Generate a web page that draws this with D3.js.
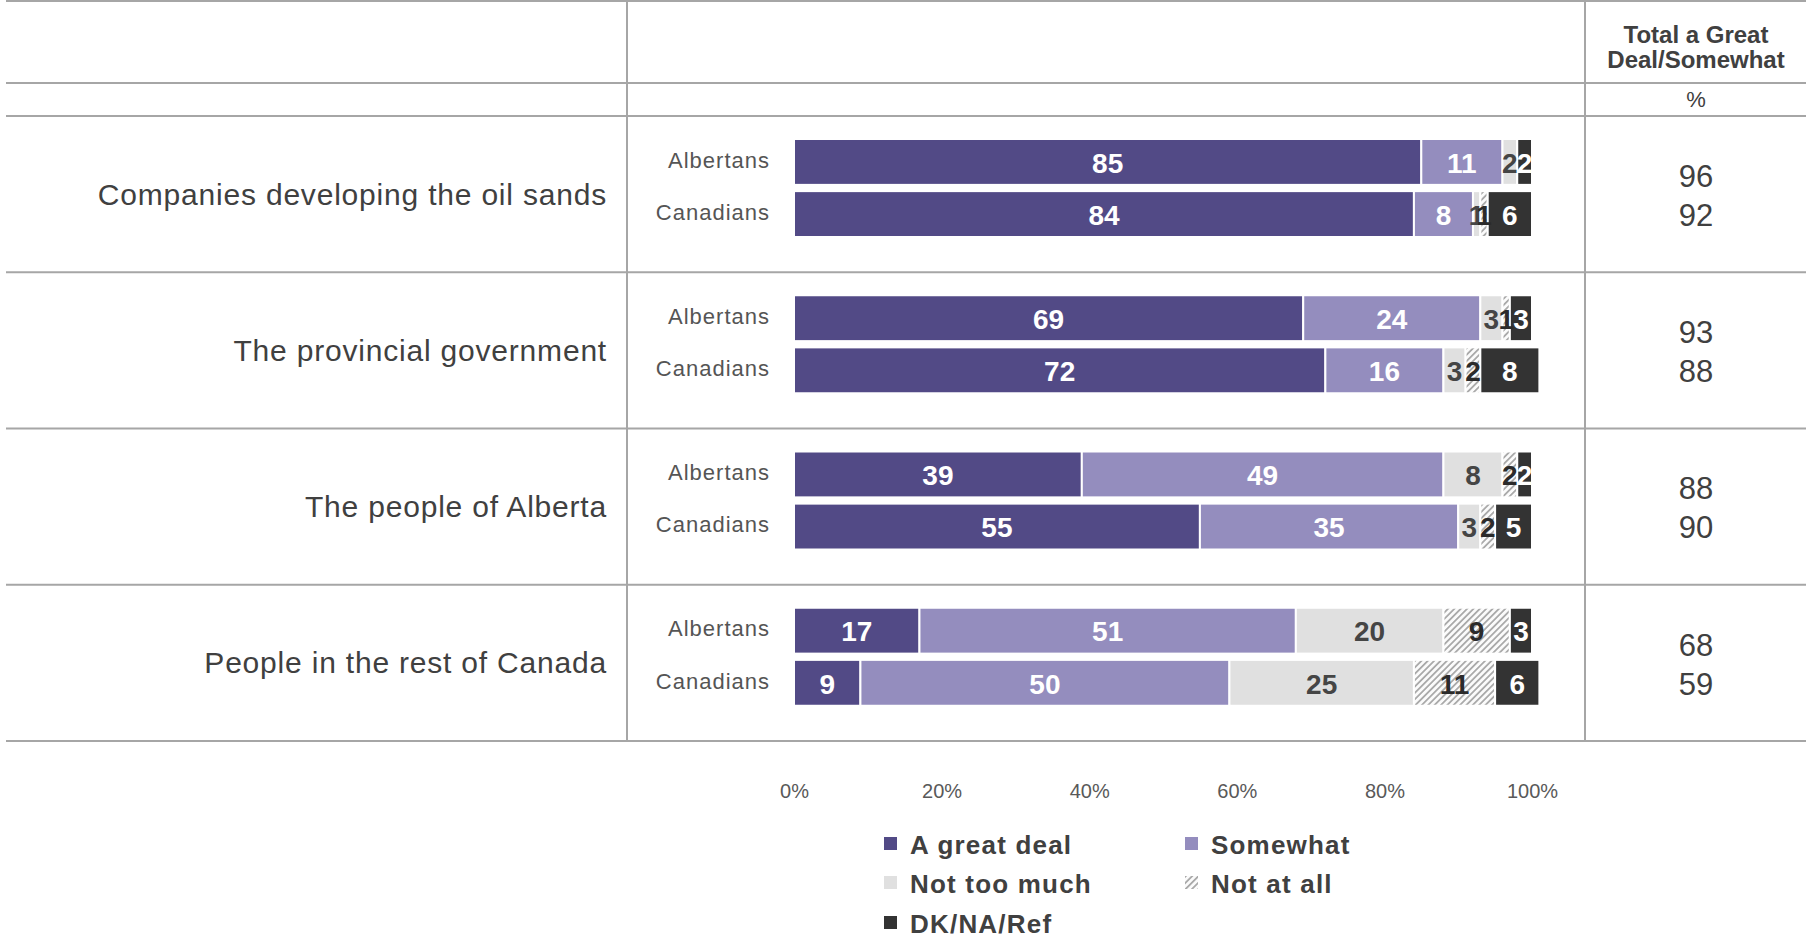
<!DOCTYPE html>
<html>
<head>
<meta charset="utf-8">
<title>Trust ratings - stacked bars</title>
<script src="https://d3js.org/d3.v7.min.js" charset="utf-8"></script>
<style>
  html, body { margin: 0; padding: 0; background: #fff; }
  svg text { font-family: "Liberation Sans", Arial, sans-serif; }
</style>
</head>
<body>
<script>
// ---- data ----
var categories = ["Companies developing the oil sands", "The provincial government",
                  "The people of Alberta", "People in the rest of Canada"];
var groups = ["Albertans", "Canadians"];
var seriesNames = ["A great deal", "Somewhat", "Not too much", "Not at all", "DK/NA/Ref"];

// one value per category x group (Albertans, Canadians)
var aGreatDeal = [85, 84, 69, 72, 39, 55, 17, 9];
var somewhat   = [11, 8, 24, 16, 49, 35, 51, 50];
var notTooMuch = [2, 1, 3, 3, 8, 3, 20, 25];
var notAtAll   = [0, 1, 1, 2, 2, 2, 9, 11];
var dkNaRef    = [2, 6, 3, 8, 2, 5, 3, 6];
var totalGreatSomewhat = [96, 92, 93, 88, 88, 90, 68, 59];
var tickValues = [0, 20, 40, 60, 80, 100];

var colors = ["#524a86", "#948dbe", "#e0e0e0", "url(#hatch)", "#333333"];
var labelColors = ["#ffffff", "#ffffff", "#454545", "#2b2b2b", "#ffffff"];

var W = 1806, H = 939;
var gridColor = "#a6a6a6";

var svg = d3.select("body").append("svg")
    .attr("width", W).attr("height", H);

// hatch pattern for "Not at all"
var defs = svg.append("defs");
var pat = defs.append("pattern")
    .attr("id", "hatch")
    .attr("patternUnits", "userSpaceOnUse")
    .attr("width", 4.5).attr("height", 4.5)
    .attr("patternTransform", "rotate(45)");
pat.append("rect").attr("width", 4.5).attr("height", 4.5).attr("fill", "#fbfbfb");
pat.append("rect").attr("x", 0).attr("width", 1.8).attr("height", 4.5).attr("fill", "#aaaaaa");

// rows table built from the arrays
var rows = [];
categories.forEach(function(c, ci) {
  groups.forEach(function(g, gi) {
    var i = ci * 2 + gi;
    rows.push({cat: c, grp: g, total: totalGreatSomewhat[i],
      "A great deal": aGreatDeal[i], "Somewhat": somewhat[i],
      "Not too much": notTooMuch[i], "Not at all": notAtAll[i], "DK/NA/Ref": dkNaRef[i]});
  });
});

var stack = d3.stack().keys(seriesNames);
var stacked = stack(rows);

// scales
var x = d3.scaleLinear().domain([0, 100]).range([794, 1532]);
var yCat = d3.scaleBand().domain(categories).range([116, 741]);
var yGrp = d3.scaleBand().domain(groups).range([23, 121]).paddingInner(0.12);

function rowY(d) { return yCat(d.cat) + yGrp(d.grp); }

// ---- table grid ----
var lineYs = [1, 83, 116].concat(categories.map(function(c) { return yCat(c) + yCat.bandwidth(); }));
svg.append("g").selectAll("line").data(lineYs).join("line")
    .attr("x1", 6).attr("x2", W)
    .attr("y1", function(d) { return d; }).attr("y2", function(d) { return d; })
    .attr("stroke", gridColor).attr("stroke-width", 2);

svg.append("g").selectAll("line").data([627, 1585]).join("line")
    .attr("x1", function(d) { return d; }).attr("x2", function(d) { return d; })
    .attr("y1", 0).attr("y2", yCat.range()[1])
    .attr("stroke", gridColor).attr("stroke-width", 2);

// header of totals column
var hdr = svg.append("text")
    .attr("x", 1696).attr("text-anchor", "middle")
    .attr("font-size", 24).attr("font-weight", "bold").attr("fill", "#404040");
hdr.append("tspan").attr("x", 1696).attr("y", 43).text("Total a Great");
hdr.append("tspan").attr("x", 1696).attr("y", 68).text("Deal/Somewhat");
svg.append("text").attr("x", 1696).attr("y", 107).attr("text-anchor", "middle")
    .attr("font-size", 22).attr("fill", "#404040").text("%");

// category labels
svg.append("g").selectAll("text").data(categories).join("text")
    .attr("x", 607)
    .attr("y", function(d) { return yCat(d) + yCat.bandwidth() / 2; })
    .attr("dy", "0.35em")
    .attr("text-anchor", "end")
    .attr("font-size", 30).attr("letter-spacing", "0.8px")
    .attr("fill", "#404040")
    .text(function(d) { return d; });

// group labels
svg.append("g").selectAll("text").data(rows).join("text")
    .attr("x", 770)
    .attr("y", function(d) { return rowY(d) + yGrp.bandwidth() / 2 - 2; })
    .attr("dy", "0.35em")
    .attr("text-anchor", "end")
    .attr("font-size", 22).attr("letter-spacing", "1px")
    .attr("fill", "#555555")
    .text(function(d) { return d.grp; });

// totals
svg.append("g").selectAll("text").data(rows).join("text")
    .attr("x", 1696)
    .attr("y", function(d) {
      var mid = yCat(d.cat) + yCat.bandwidth() / 2;
      return d.grp === "Albertans" ? mid - 18 : mid + 21;
    })
    .attr("dy", "0.35em")
    .attr("text-anchor", "middle")
    .attr("font-size", 31).attr("fill", "#404040")
    .text(function(d) { return d.total; });

// ---- stacked bars ----
var layer = svg.append("g").selectAll("g").data(stacked).join("g")
    .attr("fill", function(d, i) { return colors[i]; });

layer.selectAll("rect").data(function(d) { return d.filter(function(s) { return s[1] - s[0] > 0; }); })
  .join("rect")
    .attr("x", function(d) { return x(d[0]); })
    .attr("width", function(d) { return x(d[1]) - x(d[0]); })
    .attr("y", function(d) { return rowY(d.data); })
    .attr("height", yGrp.bandwidth())
    .attr("stroke", "#ffffff").attr("stroke-width", 2);

// value labels
var lab = svg.append("g").selectAll("g").data(stacked).join("g")
    .attr("fill", function(d, i) { return labelColors[i]; });

lab.selectAll("text").data(function(d) { return d.filter(function(s) { return s[1] - s[0] > 0; }); })
  .join("text")
    .attr("x", function(d) { return (x(d[0]) + x(d[1])) / 2; })
    .attr("y", function(d) { return rowY(d.data) + yGrp.bandwidth() / 2 + 1; })
    .attr("dy", "0.35em")
    .attr("text-anchor", "middle")
    .attr("font-size", 28).attr("font-weight", "bold")
    .text(function(d) { return d[1] - d[0]; });

// ---- x axis ----
var axis = svg.append("g")
    .attr("transform", "translate(0,784)")
    .call(d3.axisBottom(x).tickValues(tickValues).tickSize(0).tickPadding(0)
      .tickFormat(function(d) { return d + "%"; }));
axis.select(".domain").remove();
axis.selectAll("text")
    .attr("font-family", "'Liberation Sans', Arial, sans-serif")
    .attr("font-size", 20).attr("fill", "#595959").attr("dy", "0.71em");

// ---- legend ----
var legendPos = [[884, 843], [1185, 843], [884, 882], [1185, 882], [884, 922]];
var leg = svg.append("g").selectAll("g").data(seriesNames).join("g")
    .attr("transform", function(d, i) { return "translate(" + legendPos[i][0] + "," + legendPos[i][1] + ")"; });
leg.append("rect")
    .attr("x", 0).attr("y", -6).attr("width", 13).attr("height", 13)
    .attr("fill", function(d, i) { return colors[i]; });
leg.append("text")
    .attr("x", 26).attr("y", 2).attr("dy", "0.35em")
    .attr("font-size", 26).attr("font-weight", "bold").attr("letter-spacing", "1.2px")
    .attr("fill", "#404040")
    .text(function(d) { return d; });
</script>
</body>
</html>
